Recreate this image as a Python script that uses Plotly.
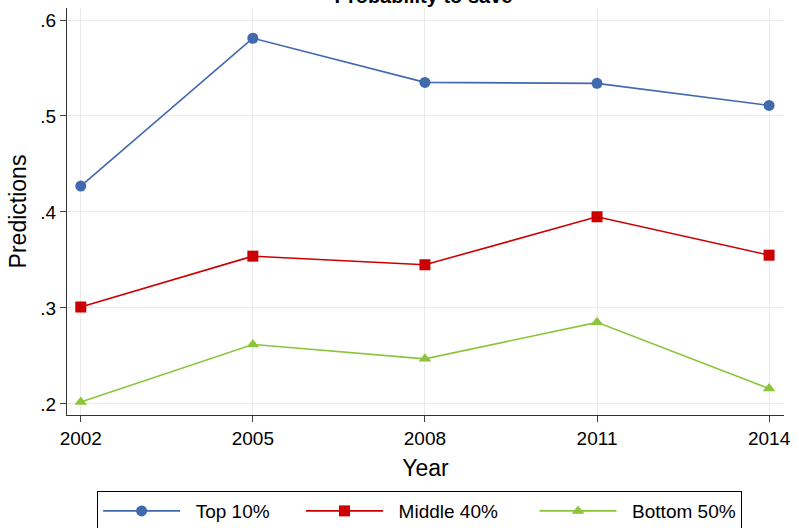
import plotly.graph_objects as go

years = [2002, 2005, 2008, 2011, 2014]
top10 = [0.427, 0.581, 0.535, 0.534, 0.511]
middle40 = [0.301, 0.354, 0.345, 0.395, 0.355]
bottom50 = [0.202, 0.262, 0.247, 0.285, 0.216]

y_ticks = [0.2, 0.3, 0.4, 0.5, 0.6]
y_tick_text = [".2", ".3", ".4", ".5", ".6"]

# non-breaking spaces to space the legend entries like the original
nb = "\u00a0"
series = [
    (nb * 2 + "Top 10%" + nb * 5, top10, "#4169ae", "circle"),
    (nb * 2 + "Middle 40%" + nb * 6, middle40, "#cc0000", "square"),
    (nb * 2 + "Bottom 50%", bottom50, "#8cc43c", "triangle-up"),
]

fig = go.Figure()
for name, ys, color, symbol in series:
    fig.add_trace(go.Scatter(
        x=years, y=ys, name=name, mode="lines+markers",
        line=dict(color=color, width=1.6),
        marker=dict(symbol=symbol, size=11, color=color),
    ))

font = "Liberation Sans, Arial, sans-serif"
fig.update_layout(
    width=799, height=528,
    margin=dict(l=67, r=12, t=8, b=113),
    paper_bgcolor="white", plot_bgcolor="white",
    font=dict(family=font, size=19, color="black"),
    title=dict(text="<b>Probability to save</b>", x=0.53, xanchor="center",
               yref="container", y=0.995, yanchor="bottom",
               font=dict(size=20)),
    showlegend=True,
    legend=dict(orientation="h", x=0.042, xanchor="left",
                yref="container", y=0.07, yanchor="top",
                bordercolor="black", borderwidth=1, bgcolor="white",
                itemwidth=77, font=dict(size=19)),
)
fig.update_xaxes(
    range=[2001.76, 2014.26], tickvals=years, ticks="outside", ticklen=6,
    showline=True, linecolor="#333333", linewidth=1.2,
    showgrid=True, gridcolor="#eaeaea", zeroline=False,
    title=dict(text="Year", standoff=11),
)
fig.update_yaxes(
    range=[0.1885, 0.6125], tickvals=y_ticks, ticktext=y_tick_text,
    ticks="outside", ticklen=6,
    showline=True, linecolor="#333333", linewidth=1.2,
    showgrid=True, gridcolor="#eaeaea", zeroline=False,
    title=dict(text="Predictions", standoff=7),
)

# page body has a default margin; drop it so the figure sits at the corner
fig.write_html("out.html", config={"displayModeBar": False},
               post_script="document.body.style.margin='0';")
